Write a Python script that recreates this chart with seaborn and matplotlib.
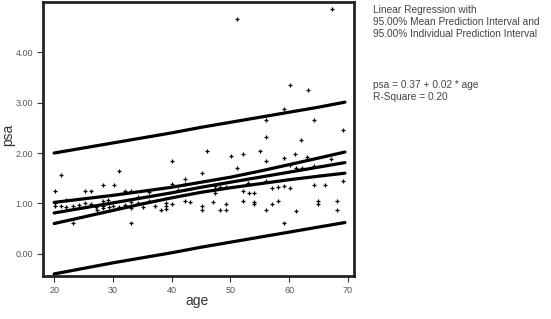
import numpy as np
import pandas as pd
import matplotlib
matplotlib.use("Agg")
import matplotlib.pyplot as plt
import seaborn as sns

# scatter points
age = [20.1, 20.1, 20.1, 21.1, 21.1, 22.1, 22.1, 23.2, 23.2, 24.2, 25.2, 25.2, 26.2, 26.2,
       27.2, 27.3, 28.3, 28.3, 28.3, 28.3, 29.1, 29.3, 30.2, 30.1, 31.1, 31.1, 32.1, 32.1,
       33.1, 33.1, 33.1, 33.1, 34.2, 34.2, 35.1,
       36.2, 36.2, 37.2, 38.2, 39.1, 39.1, 39.1, 40.1, 40.1, 40.1, 41.1, 42.2, 42.2, 42.2,
       43.2, 45.1, 45.1, 45.1, 46.1, 47.3, 47.3, 47.3, 47.1, 48.3, 48.2, 49.3, 49.2, 49.2, 50.1,
       51.2, 51.1, 52.2, 52.1, 52.1, 53.0, 53.1, 54.1, 54.1, 54.1, 55.0, 56.1, 56.1, 56.1,
       56.1, 56.1, 57.1, 57.1, 58.1, 58.1, 59.2, 59.1, 59.1, 59.1, 60.1, 60.1, 60.1, 61.0,
       61.1, 61.1, 62.1, 62.2, 63.2, 63.1, 64.2, 64.2, 64.2, 65.0, 65.0, 66.1, 67.3, 67.1,
       68.1, 68.1, 69.1, 69.1]
psa = [1.25, 1.00, 0.95, 1.56, 0.95, 1.06, 0.92, 0.95, 0.62, 0.97, 1.25, 1.00, 1.25, 0.98,
       0.92, 0.87, 1.37, 1.04, 0.95, 0.90, 1.06, 0.92, 1.37, 0.95, 1.65, 0.92, 1.25, 0.97,
       1.25, 1.02, 0.90, 0.62, 1.13, 1.00, 0.92,
       1.23, 1.04, 0.94, 0.87, 1.00, 0.94, 0.88, 1.85, 1.39, 0.99, 1.27, 1.49, 1.39, 1.04,
       1.02, 1.60, 0.95, 0.86, 2.05, 1.35, 1.29, 1.21, 1.02, 1.33, 0.86, 1.32, 0.99, 0.87, 1.94,
       4.67, 1.71, 1.99, 1.25, 1.04, 1.41, 1.21, 1.20, 1.02, 0.98, 2.05, 2.65, 2.32, 1.85,
       1.45, 0.86, 1.30, 0.99, 1.32, 1.04, 2.87, 1.91, 1.35, 0.61, 3.36, 1.76, 1.31, 1.98,
       1.70, 0.85, 2.26, 1.70, 3.25, 1.93, 2.66, 1.75, 1.37, 1.04, 0.98, 1.37, 4.85, 1.89,
       1.04, 0.87, 2.46, 1.45]

# fitted line and interval bands, read at these ages
line_age = [20, 25, 30, 35, 40, 45, 50, 55, 60, 65, 69.5]
fit = [0.81, 0.91, 1.01, 1.11, 1.21, 1.32, 1.42, 1.52, 1.62, 1.72, 1.81]
mean_hi = [1.02, 1.09, 1.16, 1.24, 1.32, 1.42, 1.52, 1.64, 1.77, 1.90, 2.02]
mean_lo = [0.60, 0.73, 0.86, 0.99, 1.11, 1.22, 1.31, 1.39, 1.47, 1.54, 1.60]
indiv_hi = [2.00, 2.10, 2.20, 2.30, 2.40, 2.51, 2.61, 2.71, 2.81, 2.91, 3.01]
indiv_lo = [-0.40, -0.29, -0.18, -0.08, 0.02, 0.13, 0.23, 0.33, 0.43, 0.53, 0.62]

pts = pd.DataFrame({"age": age, "psa": psa})
lines = pd.DataFrame({"age": line_age, "fit": fit, "mean_hi": mean_hi, "mean_lo": mean_lo,
                      "indiv_hi": indiv_hi, "indiv_lo": indiv_lo})

sns.set_style("white")
plt.rcParams["font.family"] = ["Liberation Sans", "DejaVu Sans"]

fig = plt.figure(figsize=(5.51, 3.19), dpi=100)
ax = fig.add_axes([0.078, 0.135, 0.564, 0.859])

for col in ["indiv_hi", "mean_hi", "fit", "mean_lo", "indiv_lo"]:
    sns.lineplot(data=lines, x="age", y=col, ax=ax, color="black", linewidth=2.3)

sns.scatterplot(data=pts, x="age", y="psa", ax=ax, marker="+", color="black",
                s=12, linewidth=0.9)

ax.set_xlim(18.1, 71.0)
ax.set_ylim(-0.44, 5.0)
ax.set_xticks([20, 30, 40, 50, 60, 70])
ax.set_yticks([0, 1, 2, 3, 4])
ax.set_yticklabels(["0.00", "1.00", "2.00", "3.00", "4.00"])
ax.tick_params(axis="both", direction="out", length=4, width=0.8, color="#333333",
               labelsize=6.5, labelcolor="#555555", pad=3)
ax.tick_params(left=True, bottom=True)
for side in ax.spines.values():
    side.set_color("#222222")
    side.set_linewidth(2)

ax.set_xlabel("age", fontsize=10, color="#333333")
ax.set_ylabel("psa", fontsize=10, color="#333333")
ax.xaxis.set_label_coords(0.495, -0.065)
ax.yaxis.set_label_coords(-0.09, 0.515)

fig.text(0.677, 0.985, "Linear Regression with\n95.00% Mean Prediction Interval and\n"
         "95.00% Individual Prediction Interval", fontsize=7.3, color="#444444",
         va="top", ha="left", linespacing=1.25)
fig.text(0.677, 0.748, "psa = 0.37 + 0.02 * age\nR-Square = 0.20", fontsize=7.3,
         color="#444444", va="top", ha="left", linespacing=1.25)

fig.savefig("out.png", dpi=100)
